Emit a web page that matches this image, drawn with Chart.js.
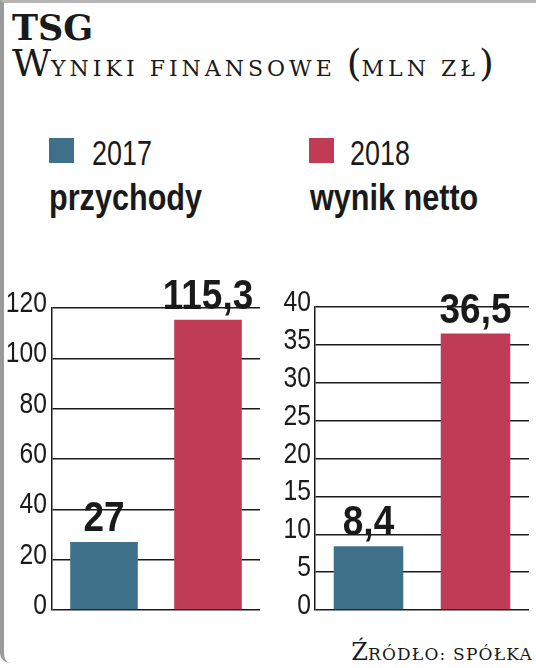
<!DOCTYPE html>
<html>
<head>
<meta charset="utf-8">
<script src="https://cdn.jsdelivr.net/npm/chart.js@4"></script>
<style>
  html, body { margin: 0; padding: 0; background: #fff; }
  .page { position: relative; width: 536px; height: 668px; overflow: hidden; background: #fff; }
  .frame { position: absolute; left: 0; top: 0; width: 532px; height: 660px;
    border-left: 4px solid #9a9a9a; border-top: 3px solid #b5b5b5; border-bottom-left-radius: 10px; }
  .abs { position: absolute; white-space: nowrap; line-height: 1; color: #1a1a1a; }
  .tsg { left: 12px; top: 7px; font: bold 35px "DejaVu Serif", serif; }
  .title { left: 12px; top: 44px; font: 38px/38px "DejaVu Serif", serif; }
  .title .sc { font-size: 22px; text-transform: uppercase; letter-spacing: 4px; }
  .narrow { transform-origin: 0 0; }
  .sq { position: absolute; width: 25px; height: 25px; top: 138px; }
  .year { top: 133px; font: 35px "Liberation Sans", sans-serif; transform: scaleX(0.77); }
  .metric { top: 177px; font: bold 36px "Liberation Sans", sans-serif; transform: scaleX(0.85); }
  .src { right: 3px; top: 640px; font: 24px/24px "DejaVu Serif", serif; }
  .src .sc { font-size: 17px; text-transform: uppercase; letter-spacing: 1.2px; }
  canvas { position: absolute; }
</style>
</head>
<body>
<div class="page">
  <div class="frame"></div>
  <div class="abs tsg">TSG</div>
  <div class="abs title">W<span class="sc">yniki finansowe </span>(<span class="sc">mln zł</span>)</div>

  <div class="sq" id="sq0" style="left:49px"></div>
  <div class="abs year narrow" id="yr0" style="left:92px"></div>
  <div class="sq" id="sq1" style="left:309px"></div>
  <div class="abs year narrow" id="yr1" style="left:350px"></div>

  <div class="abs metric narrow" style="left:49px">przychody</div>
  <div class="abs metric narrow" style="left:310px">wynik netto</div>

  <canvas id="revenueChart" style="left:0; top:250px" width="268" height="375"></canvas>
  <canvas id="netChart" style="left:268px; top:250px" width="268" height="375"></canvas>

  <div class="abs src">Ź<span class="sc">ródło: spółka</span></div>
</div>

<script>
const years = ['2017', '2018'];
const revenue = [27, 115.3];      // przychody, mln zł
const netResult = [8.4, 36.5];    // wynik netto, mln zł
const revenueTicks = [0, 20, 40, 60, 80, 100, 120];
const netTicks = [0, 5, 10, 15, 20, 25, 30, 35, 40];
const barColors = ['#3f7089', '#c03b55'];

const ink = '#1a1a1a';

document.getElementById('sq0').style.background = barColors[0];
document.getElementById('sq1').style.background = barColors[1];
document.getElementById('yr0').textContent = years[0];
document.getElementById('yr1').textContent = years[1];

// no condensed font installed, so squeeze the text horizontally
function narrowText(ctx, text, x, y, squeeze) {
    ctx.save();
    ctx.translate(x, y);
    ctx.scale(squeeze, 1);
    ctx.fillText(text, 0, 0);
    ctx.restore();
}

// y tick labels + value labels above the bars (polish decimal comma)
const condensedText = {
    id: 'condensedText',
    afterDatasetsDraw(chart, args, opts) {
        const ctx = chart.ctx;
        const y = chart.scales.y;
        ctx.save();
        ctx.fillStyle = ink;

        ctx.font = '29px "Liberation Sans", sans-serif';
        ctx.textAlign = 'right';
        ctx.textBaseline = 'middle';
        opts.ticks.forEach(v => {
            narrowText(ctx, String(v), y.right - opts.tickPad, y.getPixelForValue(v) - 4, 0.85);
        });

        const meta = chart.getDatasetMeta(0);
        const data = chart.data.datasets[0].data;
        ctx.font = 'bold 42px "Liberation Sans", sans-serif';
        ctx.textAlign = 'center';
        ctx.textBaseline = 'alphabetic';
        meta.data.forEach((bar, i) => {
            narrowText(ctx, String(data[i]).replace('.', ','), bar.x, bar.y - 11, 0.88);
        });
        ctx.restore();
    }
};

function makeChart(id, values, ticks, axisWidth, layoutPad, tickPad) {
    const ctx = document.getElementById(id).getContext('2d');
    return new Chart(ctx, {
        type: 'bar',
        data: {
            labels: years,
            datasets: [{
                data: values,
                backgroundColor: barColors,
                barPercentage: 0.65,
                categoryPercentage: 1,
            }],
        },
        options: {
            responsive: false,
            animation: false,
            layout: { padding: layoutPad },
            plugins: {
                legend: { display: false },
                tooltip: { enabled: false },
                condensedText: { ticks: ticks, tickPad: tickPad },
            },
            scales: {
                x: { display: false },
                y: {
                    min: ticks[0],
                    max: ticks[ticks.length - 1],
                    afterBuildTicks: (scale) => { scale.ticks = ticks.map(v => ({ value: v })); },
                    afterFit: (scale) => { scale.width = axisWidth; },
                    border: { display: true, color: ink, width: 1.5 },
                    grid: { color: ink, lineWidth: 1.5, drawTicks: false },
                    ticks: { display: false },
                },
            },
        },
        plugins: [condensedText],
    });
}

makeChart('revenueChart', revenue, revenueTicks, 52, { top: 58, bottom: 15, right: 8, left: 0 }, 5);
makeChart('netChart', netResult, netTicks, 47, { top: 57, bottom: 15, right: 7, left: 0 }, 4);
</script>
</body>
</html>
